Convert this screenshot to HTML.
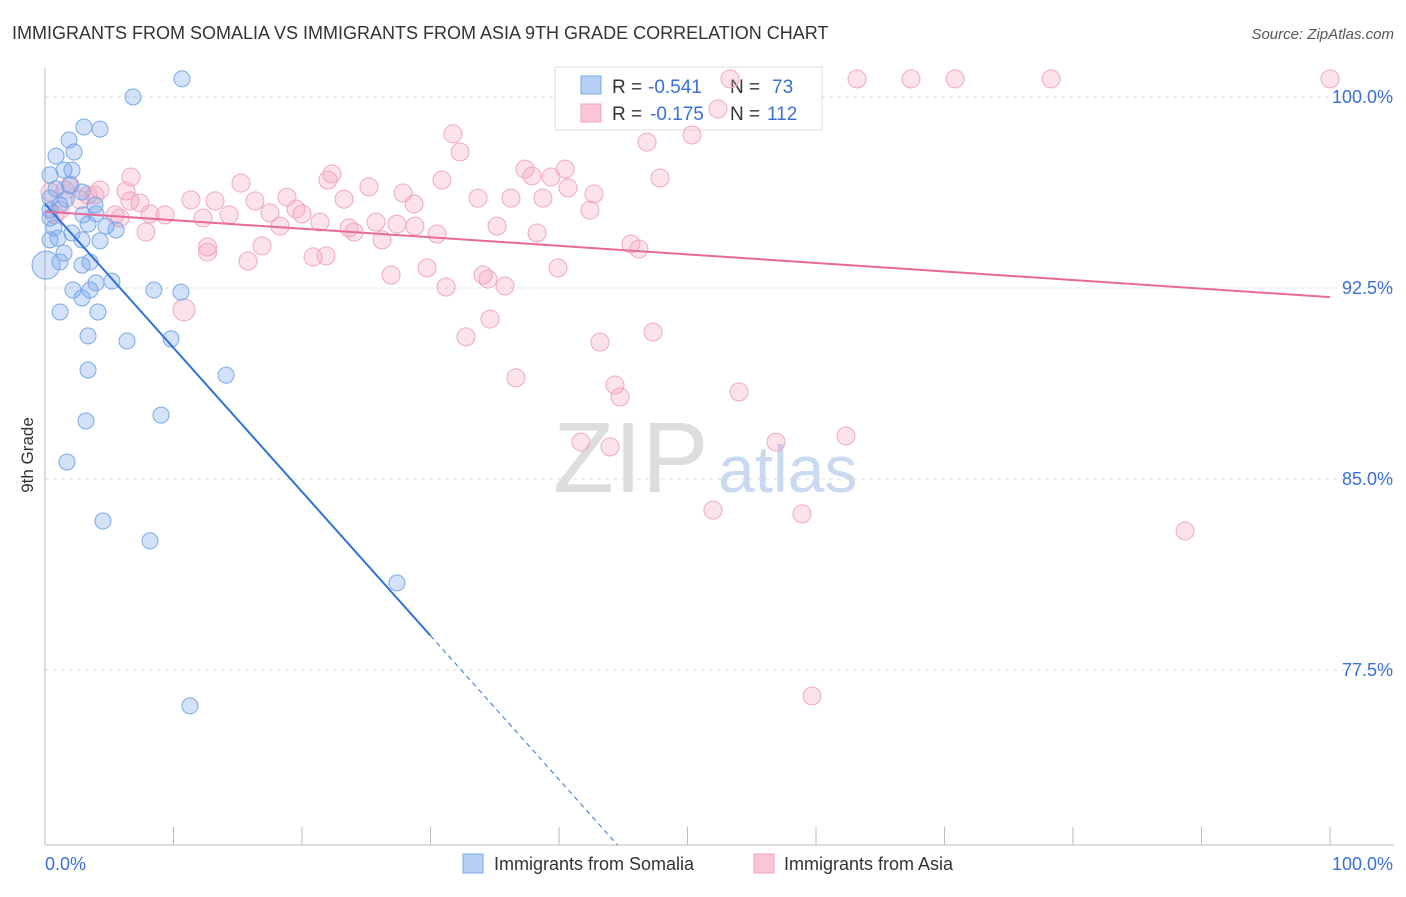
<!DOCTYPE html>
<html><head><meta charset="utf-8"><style>
body{margin:0;background:#fff;font-family:"Liberation Sans",sans-serif;}
svg text{font-family:"Liberation Sans",sans-serif;}
</style></head><body>
<svg id="chart" width="1406" height="892">
<text x="12" y="39" font-size="18" fill="#333">IMMIGRANTS FROM SOMALIA VS IMMIGRANTS FROM ASIA 9TH GRADE CORRELATION CHART</text>
<text x="1394" y="39" font-size="15" fill="#555" font-style="italic" text-anchor="end">Source: ZipAtlas.com</text>
<text x="33" y="455" font-size="17" fill="#333" transform="rotate(-90 33 455)" text-anchor="middle">9th Grade</text>
<g><text x="553" y="492" font-size="100" fill="#ddd" font-family="Liberation Serif">ZIP</text><text x="718" y="492" font-size="66" fill="#c9daf0">atlas</text></g>
<g id="grid"></g><g id="axes"></g>
<g>
<rect x="555" y="67" width="267" height="63" fill="#fff" stroke="#ddd"/>
<rect x="581" y="76" width="20" height="18" fill="#b8d0f5" stroke="#7aa8e8"/>
<rect x="581" y="104" width="20" height="18" fill="#f9c6d6" stroke="#f0a0bc"/>
<text x="612" y="93" font-size="19" fill="#333">R =</text>
<text x="648" y="93" font-size="19" fill="#3a6fd8">-0.541</text>
<text x="730" y="93" font-size="19" fill="#333">N =</text>
<text x="772" y="93" font-size="19" fill="#3a6fd8">73</text>
<text x="612" y="120" font-size="19" fill="#333">R =</text>
<text x="650" y="120" font-size="19" fill="#3a6fd8">-0.175</text>
<text x="730" y="120" font-size="19" fill="#333">N =</text>
<text x="767" y="120" font-size="19" fill="#3a6fd8">112</text>
</g>
<g id="marks"></g>
<g>
<rect x="463" y="854" width="20" height="19" fill="#b8d0f5" stroke="#7aa8e8"/>
<text x="494" y="870" font-size="18" fill="#333">Immigrants from Somalia</text>
<rect x="754" y="854" width="20" height="19" fill="#f9c6d6" stroke="#f0a0bc"/>
<text x="784" y="870" font-size="18" fill="#333">Immigrants from Asia</text>
</g>
</svg>
<script>
const yTicks=[100,92.5,85,77.5];
const yTickLabels=["100.0%","92.5%","85.0%","77.5%"];
const xTickLabels=["0.0%","100.0%"];
const somaliaX=[10.66,6.85,3.03,4.28,1.87,2.26,0.86,1.48,2.10,0.39,1.95,2.88,0.39,3.89,1.17,0.39,2.96,3.97,0.70,3.35,4.75,5.53,2.10,1.01,4.28,0.39,2.88,1.48,3.50,1.17,2.88,0.08,5.21,3.97,2.18,3.50,8.48,10.58,2.88,1.17,4.12,3.35,6.38,9.81,3.35,14.09,9.03,3.19,1.71,4.51,8.17,27.39,11.28,0.39,1.64,0.86];
const somaliaY=[100.71,100.0,98.82,98.74,98.31,97.84,97.68,97.13,97.13,96.94,96.54,96.27,96.03,95.76,95.76,95.56,95.37,95.41,94.86,95.01,94.93,94.78,94.66,94.46,94.35,94.39,94.39,93.87,93.52,93.52,93.40,93.40,92.77,92.70,92.42,92.42,92.42,92.34,92.11,91.56,91.56,90.62,90.42,90.50,89.28,89.08,87.51,87.28,85.67,83.35,82.57,80.92,76.09,95.25,95.99,96.39];
const asiaX=[100,78.29,70.82,67.39,63.19,53.31,52.37,50.35,46.85,31.75,32.30,47.86,37.35,40.47,39.38,37.90,30.89,22.33,22.02,15.25,6.69,6.30,25.21,27.86,40.70,42.72,33.70,36.26,38.75,28.72,42.41,18.83,16.34,13.23,11.36,7.39,8.17,19.53,20.00,21.40,17.51,14.32,12.30,9.34,23.27,25.76,28.79,23.66,24.05,27.39,26.23,30.51,38.29,35.18,7.86,12.65,16.89,18.29,45.60,46.22,12.65,15.80,20.86,21.87,29.73,26.93,34.09,34.47,31.21,35.80,39.92,10.82,34.63,32.76,47.32,43.19,36.65,44.36,44.75,54.01,41.71,43.97,56.89,62.33,51.98,58.91,88.72,59.69,1.95,3.89,5.45,1.17,4.28,2.72,0.78,3.35,5.84,1.56,6.61,0.39];
const asiaY=[100.71,100.71,100.71,100.71,100.71,100.71,99.53,98.51,98.23,98.55,97.84,96.82,97.17,97.17,96.86,96.90,96.74,96.98,96.74,96.62,96.86,96.31,96.47,96.23,96.43,96.19,96.03,96.03,96.03,95.80,95.56,96.07,95.92,95.92,95.96,95.84,95.41,95.60,95.41,95.09,95.45,95.37,95.25,95.37,95.99,95.09,94.93,94.86,94.70,95.01,94.39,94.62,94.66,94.93,94.70,94.11,94.15,94.93,94.23,94.03,93.91,93.56,93.72,93.76,93.29,93.01,93.01,92.85,92.54,92.58,93.29,91.64,91.28,90.58,90.77,90.38,88.97,88.69,88.22,88.42,86.45,86.26,86.45,86.69,83.78,83.63,82.96,76.48,96.54,96.15,95.37,95.56,96.35,95.96,95.37,96.15,95.25,96.35,95.92,96.27];
const somaliaTrend=[0,95.8,30,78.85];
const asiaTrend=[0,95.5,100,92.14];
const NS="http://www.w3.org/2000/svg";
const X=v=>45+v*12.85, Y=v=>97+(100-v)*25.467;
function mk(tag,attrs,parent){const e=document.createElementNS(NS,tag);for(const k in attrs)e.setAttribute(k,attrs[k]);document.getElementById(parent).appendChild(e);return e;}
yTicks.forEach((t,i)=>{
 const g=mk('line',{x1:45,x2:1394,y1:Y(t),y2:Y(t),stroke:'#ddd','stroke-dasharray':'4,4'},'grid');
 
 
 const l=mk('text',{x:1393,y:Y(t)+6,'font-size':18,fill:'#3a6fd8','text-anchor':'end'},'axes');l.textContent=yTickLabels[i];
 
 
});
mk('line',{x1:45,x2:45,y1:68,y2:845,stroke:'#bbb'},'axes');
mk('line',{x1:45,x2:1394,y1:845,y2:845,stroke:'#bbb'},'axes');
for(let i=0;i<=10;i++){const t=mk('line',{x1:X(i*10),x2:X(i*10),y1:827,y2:845,stroke:'#bbb'},'axes');
 
 }
const xl0=mk('text',{x:45,y:870,'font-size':18,fill:'#3a6fd8'},'axes');xl0.textContent=xTickLabels[0];


const xl1=mk('text',{x:1393,y:870,'font-size':18,fill:'#3a6fd8','text-anchor':'end'},'axes');xl1.textContent=xTickLabels[1];


asiaX.forEach((v,i)=>{const c=mk('circle',{cx:X(v),cy:Y(asiaY[i]),r:i==71?11:9,fill:'rgba(244,160,188,0.3)',stroke:'#f0a8c0','stroke-width':1},'marks');
 
 });
somaliaX.forEach((v,i)=>{const c=mk('circle',{cx:X(v),cy:Y(somaliaY[i]),r:i==31?14:8,fill:'rgba(110,160,235,0.3)',stroke:'#7aa8e8','stroke-width':1},'marks');
 
 });
const sl=(somaliaTrend[3]-somaliaTrend[1])/(somaliaTrend[2]-somaliaTrend[0]);
const tb=mk('line',{x1:X(0),y1:Y(somaliaTrend[1]),x2:X(somaliaTrend[2]),y2:Y(somaliaTrend[3]),stroke:'#2f72d8','stroke-width':2},'marks');


const xe=(70.63-somaliaTrend[1])/sl;
const td=mk('line',{x1:X(somaliaTrend[2]),y1:Y(somaliaTrend[3]),x2:X(xe),y2:Y(70.63),stroke:'#2f72d8','stroke-width':1,'stroke-dasharray':'5,4'},'marks');


const tp=mk('line',{x1:X(asiaTrend[0]),y1:Y(asiaTrend[1]),x2:X(asiaTrend[2]),y2:Y(asiaTrend[3]),stroke:'#e8699a','stroke-width':2},'marks');


</script>
</body></html>
